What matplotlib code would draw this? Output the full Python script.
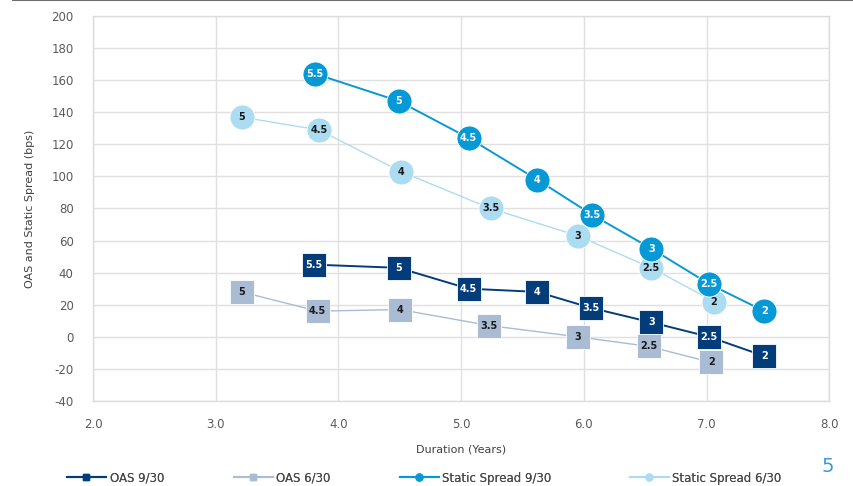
import matplotlib
matplotlib.use("Agg")
import matplotlib.pyplot as plt
from matplotlib.lines import Line2D

plt.rcParams["axes.unicode_minus"] = False

# Coupon labels shared by all series (rate bucket for each point)
oas_930_coupons = ["5.5", "5", "4.5", "4", "3.5", "3", "2.5", "2"]
oas_930_dur = [3.80, 4.49, 5.06, 5.62, 6.06, 6.55, 7.02, 7.47]
oas_930_bps = [45, 43, 30, 28, 18, 9, 0, -12]

oas_630_coupons = ["5", "4.5", "4", "3.5", "3", "2.5", "2"]
oas_630_dur = [3.21, 3.83, 4.50, 5.23, 5.95, 6.53, 7.04]
oas_630_bps = [28, 16, 17, 7, 0, -6, -16]

ss_930_coupons = ["5.5", "5", "4.5", "4", "3.5", "3", "2.5", "2"]
ss_930_dur = [3.81, 4.49, 5.06, 5.62, 6.07, 6.55, 7.02, 7.47]
ss_930_bps = [164, 147, 124, 98, 76, 55, 33, 16]

ss_630_coupons = ["5", "4.5", "4", "3.5", "3", "2.5", "2"]
ss_630_dur = [3.21, 3.84, 4.51, 5.24, 5.95, 6.55, 7.06]
ss_630_bps = [137, 129, 103, 80, 63, 43, 22]

x_ticks = [2.0, 3.0, 4.0, 5.0, 6.0, 7.0, 8.0]
y_ticks = list(range(-40, 201, 20))

C_OAS_930 = "#023d7a"
C_OAS_630 = "#a9bcd4"
C_SS_930 = "#0799d6"
C_SS_630 = "#acdcf2"

fig = plt.figure(figsize=(8.54, 4.86), dpi=100)
ax = fig.add_axes([0.109, 0.175, 0.862, 0.792])

series = [
    # (x, y, labels, color, marker, line width, text colour, name)
    (oas_630_dur, oas_630_bps, oas_630_coupons, C_OAS_630, "s", 1.0, "#1a1a1a", "OAS 6/30"),
    (ss_630_dur, ss_630_bps, ss_630_coupons, C_SS_630, "o", 1.0, "#1a1a1a", "Static Spread 6/30"),
    (oas_930_dur, oas_930_bps, oas_930_coupons, C_OAS_930, "s", 1.4, "white", "OAS 9/30"),
    (ss_930_dur, ss_930_bps, ss_930_coupons, C_SS_930, "o", 1.4, "white", "Static Spread 9/30"),
]

for i, (xs, ys, labs, col, mk, lw, tc, name) in enumerate(series):
    ms = 17.5 if mk == "s" else 18
    ax.plot(xs, ys, color=col, lw=lw, marker=mk, ms=ms, mfc=col, mec="white",
            mew=0.6, zorder=3 + i)
    for x, y, s in zip(xs, ys, labs):
        ax.text(x, y, s, ha="center", va="center", fontsize=7, fontweight="bold",
                color=tc, family="DejaVu Sans", zorder=3 + i)

ax.set_xlim(2.0, 8.0)
ax.set_ylim(-40, 200)
ax.set_xticks(x_ticks)
ax.set_xticklabels([f"{v:.1f}" for v in x_ticks])
ax.set_yticks(y_ticks)
ax.grid(True, color="#e0e0e0", lw=1.0)
ax.set_axisbelow(True)
for sp in ax.spines.values():
    sp.set_color("#dcdcdc")
    sp.set_linewidth(1.0)
ax.tick_params(length=0, labelsize=8.5, colors="#5a5a5a")
ax.tick_params(axis="x", pad=12)
ax.tick_params(axis="y", pad=14)
ax.set_xlabel("Duration (Years)", fontsize=8, color="#404040", labelpad=10)
ax.set_ylabel("OAS and Static Spread (bps)", fontsize=8, color="#404040", labelpad=12)

# Rule across the top of the page
fig.add_artist(Line2D([0.015, 1.0], [0.999, 0.999], color="#707070", lw=1.5,
                      transform=fig.transFigure))

# One legend entry per series, spread along the bottom of the page
handles = [
    Line2D([], [], color=C_OAS_930, lw=1.5, marker="s", ms=5),
    Line2D([], [], color=C_OAS_630, lw=1.5, marker="s", ms=5),
    Line2D([], [], color=C_SS_930, lw=1.5, marker="o", ms=5),
    Line2D([], [], color=C_SS_630, lw=1.5, marker="o", ms=5),
]
names = ["OAS 9/30", "OAS 6/30", "Static Spread 9/30", "Static Spread 6/30"]
legend_x = [67, 234, 400, 630]
for h, n, px in zip(handles, names, legend_x):
    leg = fig.legend([h], [n], loc="center left",
                     bbox_to_anchor=(px / 854, 1 - 478 / 486),
                     frameon=False, fontsize=8.5, handlelength=3.3,
                     handletextpad=0.3, borderpad=0, borderaxespad=0)
    for t in leg.get_texts():
        t.set_color("#4a4a4a")
    fig.add_artist(leg)

fig.text(828 / 854, 1 - 466 / 486, "5", fontsize=14, color="#3d9ad8",
         ha="center", va="center")

fig.savefig("out.png", dpi=100)
